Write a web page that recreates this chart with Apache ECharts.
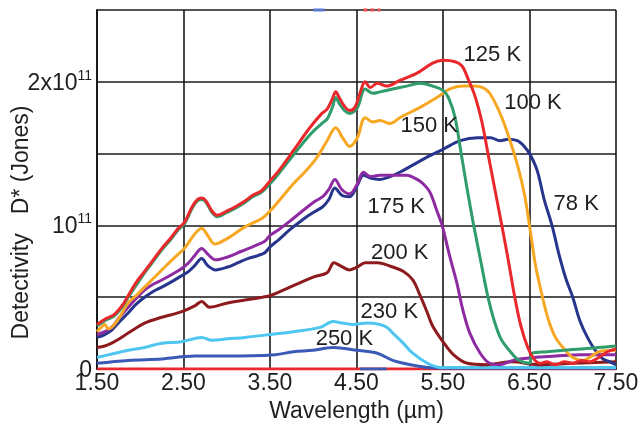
<!DOCTYPE html>
<html>
<head>
<meta charset="utf-8">
<script src="https://cdn.jsdelivr.net/npm/echarts@6/dist/echarts.min.js"></script>
<style>
  html, body { margin: 0; padding: 0; background: #fff; }
  #chart { width: 644px; height: 438px; }
</style>
</head>
<body>
<div id="chart"></div>
<script>
// Spectral detectivity D* (units of 1e11 Jones) vs wavelength (µm) at several temperatures.
const xTicks = [1.5, 2.5, 3.5, 4.5, 5.5, 6.5, 7.5];
const yTicks = [0, 0.5, 1, 1.5, 2, 2.5];

const d78K = [[1.5,0.22],[1.59,0.24],[1.67,0.27],[1.76,0.33],[1.86,0.39],[1.95,0.45],[2.05,0.50],[2.15,0.54],[2.25,0.57],[2.37,0.61],[2.48,0.65],[2.56,0.68],[2.63,0.72],[2.71,0.77],[2.78,0.72],[2.87,0.69],[3.01,0.71],[3.13,0.74],[3.25,0.77],[3.36,0.79],[3.44,0.81],[3.5,0.85],[3.6,0.90],[3.73,0.97],[3.9,1.05],[4.0,1.09],[4.11,1.13],[4.18,1.18],[4.25,1.26],[4.33,1.21],[4.42,1.20],[4.51,1.28],[4.58,1.35],[4.66,1.33],[4.77,1.32],[4.89,1.34],[5.0,1.37],[5.15,1.42],[5.3,1.47],[5.5,1.53],[5.7,1.59],[5.9,1.61],[6.05,1.61],[6.16,1.59],[6.25,1.60],[6.36,1.59],[6.44,1.55],[6.51,1.49],[6.59,1.38],[6.67,1.18],[6.76,1.0],[6.84,0.80],[6.92,0.63],[7.0,0.50],[7.08,0.34],[7.17,0.22],[7.26,0.13],[7.35,0.07],[7.43,0.05],[7.5,0.03]];

const d100K = [[1.5,0.26],[1.55,0.29],[1.59,0.31],[1.63,0.28],[1.67,0.29],[1.74,0.34],[1.86,0.46],[1.95,0.51],[2.05,0.57],[2.15,0.63],[2.25,0.69],[2.35,0.75],[2.44,0.80],[2.51,0.84],[2.63,0.94],[2.71,0.98],[2.78,0.93],[2.86,0.87],[3.01,0.91],[3.21,0.99],[3.41,1.05],[3.5,1.10],[3.56,1.14],[3.77,1.29],[3.9,1.37],[4.04,1.47],[4.16,1.59],[4.26,1.68],[4.34,1.61],[4.42,1.55],[4.51,1.61],[4.6,1.75],[4.69,1.72],[4.77,1.73],[4.89,1.71],[5.0,1.75],[5.23,1.82],[5.43,1.89],[5.58,1.95],[5.73,1.97],[5.85,1.97],[5.96,1.96],[6.04,1.92],[6.16,1.78],[6.27,1.60],[6.37,1.40],[6.44,1.22],[6.5,1.0],[6.57,0.72],[6.65,0.50],[6.72,0.34],[6.8,0.22],[6.9,0.14],[7.0,0.08],[7.12,0.06],[7.22,0.09],[7.3,0.12],[7.5,0.13]];

const d125K = [[1.5,0.31],[1.6,0.35],[1.7,0.38],[1.8,0.45],[1.86,0.51],[1.95,0.60],[2.05,0.68],[2.15,0.76],[2.25,0.84],[2.35,0.91],[2.44,0.98],[2.51,1.02],[2.6,1.13],[2.66,1.18],[2.71,1.19],[2.76,1.17],[2.83,1.10],[2.89,1.07],[3.0,1.10],[3.1,1.13],[3.21,1.17],[3.3,1.21],[3.4,1.24],[3.5,1.31],[3.6,1.38],[3.77,1.52],[3.96,1.68],[4.1,1.78],[4.16,1.81],[4.22,1.88],[4.26,1.93],[4.3,1.89],[4.36,1.83],[4.42,1.80],[4.48,1.82],[4.54,1.92],[4.6,2.0],[4.66,1.96],[4.74,1.99],[4.85,1.97],[5.0,2.01],[5.2,2.06],[5.38,2.13],[5.5,2.15],[5.64,2.14],[5.72,2.11],[5.79,2.02],[5.87,1.90],[5.95,1.72],[6.02,1.50],[6.1,1.25],[6.18,1.0],[6.26,0.74],[6.33,0.50],[6.40,0.30],[6.48,0.15],[6.55,0.07],[6.62,0.04],[6.7,0.05],[6.8,0.03],[6.9,0.05],[7.0,0.04],[7.1,0.06],[7.2,0.05],[7.3,0.08],[7.4,0.12],[7.5,0.14]];

const d150K = [[1.5,0.30],[1.6,0.34],[1.7,0.37],[1.8,0.44],[1.86,0.50],[1.95,0.58],[2.05,0.67],[2.15,0.75],[2.25,0.83],[2.35,0.90],[2.44,0.97],[2.51,1.01],[2.6,1.12],[2.66,1.17],[2.71,1.18],[2.76,1.16],[2.83,1.09],[2.89,1.06],[3.0,1.09],[3.1,1.12],[3.21,1.16],[3.3,1.20],[3.4,1.23],[3.5,1.29],[3.6,1.36],[3.77,1.49],[3.96,1.63],[4.1,1.71],[4.16,1.74],[4.22,1.82],[4.26,1.89],[4.3,1.85],[4.36,1.80],[4.42,1.78],[4.51,1.82],[4.6,1.95],[4.69,1.92],[4.77,1.93],[4.92,1.95],[5.08,1.97],[5.23,1.99],[5.38,1.97],[5.5,1.94],[5.57,1.88],[5.64,1.75],[5.71,1.50],[5.78,1.25],[5.855,1.0],[5.94,0.74],[6.02,0.50],[6.09,0.34],[6.17,0.21],[6.28,0.12],[6.38,0.06],[6.5,0.04],[6.53,0.11],[6.7,0.12],[6.9,0.13],[7.1,0.14],[7.3,0.15],[7.5,0.16]];

const d175K = [[1.5,0.24],[1.59,0.26],[1.67,0.29],[1.76,0.36],[1.86,0.43],[1.95,0.49],[2.05,0.55],[2.15,0.59],[2.25,0.62],[2.37,0.66],[2.48,0.70],[2.56,0.74],[2.63,0.79],[2.71,0.84],[2.78,0.80],[2.87,0.76],[3.01,0.78],[3.17,0.82],[3.33,0.86],[3.44,0.89],[3.5,0.93],[3.6,0.97],[3.73,1.03],[4.0,1.16],[4.11,1.20],[4.18,1.25],[4.25,1.32],[4.33,1.25],[4.42,1.22],[4.51,1.29],[4.58,1.37],[4.66,1.34],[4.77,1.35],[4.92,1.35],[5.08,1.35],[5.2,1.32],[5.27,1.29],[5.35,1.23],[5.43,1.10],[5.49,1.0],[5.58,0.78],[5.66,0.60],[5.73,0.41],[5.81,0.25],[5.93,0.11],[6.04,0.04],[6.16,0.03],[6.31,0.06],[6.54,0.08],[6.8,0.09],[7.1,0.10],[7.5,0.10]];

const d200K = [[1.5,0.15],[1.59,0.16],[1.67,0.18],[1.76,0.21],[1.86,0.25],[2.05,0.32],[2.25,0.36],[2.48,0.40],[2.63,0.44],[2.71,0.47],[2.8,0.43],[3.01,0.46],[3.21,0.48],[3.41,0.50],[3.5,0.51],[3.77,0.58],[4.0,0.64],[4.16,0.67],[4.24,0.74],[4.31,0.72],[4.42,0.69],[4.51,0.71],[4.6,0.74],[4.74,0.74],[4.92,0.71],[5.04,0.68],[5.15,0.62],[5.23,0.52],[5.32,0.39],[5.38,0.30],[5.5,0.19],[5.62,0.10],[5.78,0.04],[6.0,0.03],[6.3,0.05],[6.6,0.03],[7.0,0.04],[7.5,0.05]];

const d230K = [[1.5,0.08],[1.71,0.11],[1.86,0.13],[2.05,0.15],[2.25,0.18],[2.48,0.19],[2.71,0.22],[2.83,0.20],[3.01,0.21],[3.21,0.22],[3.5,0.24],[3.77,0.26],[4.08,0.29],[4.23,0.33],[4.34,0.32],[4.46,0.31],[4.62,0.32],[4.77,0.31],[4.85,0.29],[4.92,0.25],[5.04,0.18],[5.15,0.11],[5.32,0.04],[5.47,0.01],[5.7,0.01],[7.5,0.01]];

const d250K = [[1.5,0.04],[1.86,0.06],[2.25,0.07],[2.63,0.09],[3.01,0.09],[3.56,0.10],[3.77,0.12],[4.0,0.13],[4.23,0.15],[4.51,0.13],[4.74,0.11],[4.92,0.06],[5.12,0.03],[5.32,0.01],[5.6,0.005],[7.5,0.005]];

// Short stray traces along the frame edges
const baseRed = [[1.5,0],[7.5,0]];
const baseBlue = [[4.54,0],[4.85,0]];
const topBlue = [[4.0,2.5],[4.13,2.5]];
const topRed = [[4.58,2.5],[4.78,2.5]];

// Label anchors (data coordinates) and line colours
const labelPos = {
  '125 K': [6.07, 2.19], '100 K': [6.54, 1.85], '150 K': [5.34, 1.69], '78 K': [7.04, 1.15],
  '175 K': [4.96, 1.13], '200 K': [5.0, 0.81], '230 K': [4.88, 0.40], '250 K': [4.36, 0.21]
};
const colors = {
  '78 K': '#27358d', '100 K': '#f7a823', '125 K': '#e8282b', '150 K': '#2e9c6b',
  '175 K': '#8e2ba3', '200 K': '#8d1b1d', '230 K': '#4ec6f0', '250 K': '#3b5ab6'
};
const curveData = {
  '78 K': d78K, '100 K': d100K, '125 K': d125K, '150 K': d150K,
  '175 K': d175K, '200 K': d200K, '230 K': d230K, '250 K': d250K
};
const drawOrder = ['250 K','230 K','200 K','78 K','175 K','100 K','150 K','125 K'];

const FONT = 'Liberation Sans, Arial, sans-serif';
const TXT = '#1e1e1e';

const series = [];
series.push({ type: 'line', data: baseRed, symbol: 'none', lineStyle: { color: '#e8282b', width: 3 }, z: 1, silent: true });
series.push({ type: 'line', data: baseBlue, symbol: 'none', lineStyle: { color: '#3b5ab6', width: 3 }, z: 1, silent: true });
series.push({ type: 'line', data: topBlue, symbol: 'none', clip: false, lineStyle: { color: '#5a78d0', width: 3 }, z: 1, silent: true });
series.push({ type: 'line', data: topRed, symbol: 'none', clip: false, lineStyle: { color: '#f05050', width: 3, type: [4, 3] }, z: 1, silent: true });

drawOrder.forEach(function (name) {
  series.push({
    name: name,
    type: 'line',
    data: curveData[name],
    symbol: 'none',
    smooth: 0.35,
    lineStyle: { color: colors[name], width: 3 },
    z: 3,
    markPoint: {
      symbol: 'circle',
      symbolSize: 1,
      itemStyle: { color: 'rgba(0,0,0,0)' },
      data: [{ coord: labelPos[name], value: name }],
      label: { show: true, formatter: name, color: TXT, fontSize: 22, fontFamily: FONT, position: 'inside' }
    }
  });
});

const chart = echarts.init(document.getElementById('chart'), null, { renderer: 'canvas' });
chart.setOption({
  animation: false,
  backgroundColor: '#ffffff',
  grid: { left: 97, top: 10, width: 519, height: 359, containLabel: false, outerBoundsMode: 'none' },
  xAxis: {
    type: 'value',
    min: xTicks[0], max: xTicks[xTicks.length - 1], interval: 1,
    name: 'Wavelength (µm)', nameLocation: 'middle', nameGap: 31, nameMoveOverlap: false,
    nameTextStyle: { fontSize: 23, color: TXT, fontFamily: FONT },
    axisLine: { lineStyle: { color: '#1a1a1a', width: 2 } },
    axisTick: { show: false },
    axisLabel: { fontSize: 23, color: TXT, fontFamily: FONT, margin: 3, formatter: function (v) { return v.toFixed(2); } },
    splitLine: { show: true, lineStyle: { color: '#1a1a1a', width: 1.6 } }
  },
  yAxis: {
    type: 'value',
    min: yTicks[0], max: yTicks[yTicks.length - 1], interval: 0.5,
    name: 'Detectivity   D* (Jones)', nameLocation: 'middle', nameGap: 75, nameRotate: 90,
    nameMoveOverlap: false,
    nameTextStyle: { fontSize: 23, color: TXT, fontFamily: FONT, align: 'center', verticalAlign: 'middle', padding: [0, 66, 0, 0] },
    axisLine: { show: true, lineStyle: { color: '#1a1a1a', width: 2 } },
    axisTick: { show: false },
    axisLabel: {
      margin: 5, color: TXT, fontFamily: FONT,
      formatter: function (v) {
        if (v === 0) return '{n|0}';
        if (v === 1) return '{n|10}{s|11}';
        if (v === 2) return '{n|2x10}{s|11}';
        return '';
      },
      rich: {
        n: { fontSize: 23, color: TXT, fontFamily: FONT, lineHeight: 26, verticalAlign: 'bottom' },
        s: { fontSize: 14, color: TXT, fontFamily: FONT, lineHeight: 15, verticalAlign: 'top' }
      }
    },
    splitLine: { show: true, lineStyle: { color: '#1a1a1a', width: 1.6 } }
  },
  series: series
});
</script>
</body>
</html>
